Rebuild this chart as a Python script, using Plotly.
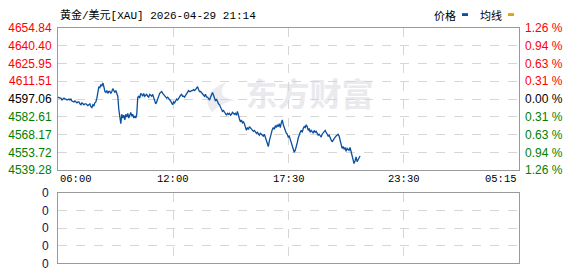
import pandas as pd
import plotly.graph_objects as go

# ---------------- data ----------------
title_text = "黄金/美元[XAU] 2026-04-29 21:14"
prev_close = 4597.06
start_time = "2026-04-29 06:00"
last_time = "2026-04-29 21:14"
session_end = "2026-04-30 05:15"
x_tick_labels = ["06:00", "12:00", "17:30", "23:30", "05:15"]
price_ticks = [4539.28, 4553.72, 4568.17, 4582.61, 4597.06, 4611.51, 4625.95, 4640.40, 4654.84]
pct_labels = ["1.26 %", "0.94 %", "0.63 %", "0.31 %", "0.00 %", "0.31 %", "0.63 %", "0.94 %", "1.26 %"]
vol_ticks = [0, 1, 2, 3, 4]
vol_labels = ["0", "0", "0", "0", "0"]
legend_names = ["价格", "均线"]
watermark = "东方财富"

prices = [
    4598.60, 4597.83, 4597.83, 4597.83, 4596.29, 4597.06, 4597.83, 4597.06, 4597.06, 4596.29,
    4597.06, 4597.06, 4596.29, 4597.06, 4595.52, 4594.75, 4594.75, 4595.52, 4594.75, 4593.98,
    4594.75, 4594.75, 4593.21, 4592.44, 4593.98, 4593.21, 4592.44, 4593.21, 4593.21, 4592.44,
    4591.67, 4592.44, 4593.21, 4590.90, 4590.13, 4592.44, 4591.67, 4593.98, 4594.75, 4597.83,
    4603.99, 4607.08, 4606.31, 4608.62, 4607.85, 4610.16, 4607.08, 4603.22, 4602.45, 4603.99,
    4601.68, 4603.22, 4603.22, 4601.68, 4603.22, 4605.54, 4603.99, 4602.45, 4603.99, 4600.91,
    4599.37, 4588.59, 4582.42, 4577.03, 4584.73, 4581.65, 4583.96, 4580.11, 4584.73, 4582.42,
    4585.51, 4581.65, 4583.96, 4586.28, 4583.19, 4584.73, 4581.65, 4583.19, 4581.65, 4584.73,
    4598.60, 4599.37, 4597.83, 4601.68, 4600.91, 4599.37, 4601.68, 4599.37, 4600.14, 4600.91,
    4599.37, 4598.60, 4600.91, 4600.14, 4599.37, 4600.91, 4598.60, 4597.06, 4593.21, 4594.75,
    4597.83, 4598.60, 4601.68, 4602.45, 4603.22, 4601.68, 4600.91, 4599.37, 4598.60, 4597.83,
    4598.60, 4597.83, 4597.06, 4595.52, 4593.98, 4592.44, 4594.75, 4593.98, 4595.52, 4597.06,
    4596.29, 4597.83, 4598.60, 4600.14, 4600.91, 4599.37, 4599.37, 4598.60, 4600.14, 4601.68,
    4603.22, 4603.99, 4603.22, 4603.22, 4603.99, 4603.99, 4604.77, 4603.99, 4604.77, 4605.54,
    4607.08, 4604.77, 4603.22, 4603.22, 4602.45, 4600.91, 4600.14, 4599.37, 4600.91, 4598.60,
    4598.60, 4597.83, 4596.29, 4598.60, 4600.91, 4602.45, 4600.14, 4597.83, 4595.52, 4597.06,
    4593.98, 4593.21, 4592.44, 4590.13, 4588.59, 4587.05, 4587.82, 4586.28, 4585.51, 4583.96,
    4585.51, 4584.73, 4585.51, 4583.96, 4584.73, 4586.28, 4585.51, 4584.73, 4585.51, 4583.96,
    4587.05, 4583.19, 4580.88, 4578.57, 4580.11, 4577.80, 4578.57, 4577.03, 4573.18, 4571.64,
    4573.95, 4572.41, 4574.72, 4573.95, 4573.18, 4572.41, 4570.87, 4571.64, 4570.10, 4569.33,
    4570.10, 4568.56, 4567.79, 4569.33, 4568.56, 4568.56, 4567.02, 4568.56, 4566.25, 4563.93,
    4560.85, 4558.54, 4563.16, 4567.02, 4570.10, 4572.41, 4573.95, 4572.41, 4575.49, 4573.95,
    4576.26, 4574.72, 4577.03, 4573.95, 4577.80, 4580.11, 4576.26, 4573.95, 4570.87, 4569.33,
    4568.56, 4566.25, 4567.02, 4564.70, 4562.39, 4560.08, 4556.23, 4553.92, 4555.46, 4557.77,
    4561.62, 4565.47, 4568.56, 4570.10, 4571.64, 4570.10, 4573.18, 4574.72, 4573.95, 4576.26,
    4574.72, 4571.64, 4573.18, 4570.10, 4571.64, 4570.87, 4569.33, 4571.64, 4570.10, 4570.87,
    4569.33, 4567.79, 4568.56, 4567.02, 4566.25, 4568.56, 4569.33, 4570.87, 4571.64, 4570.10,
    4568.56, 4567.02, 4567.79, 4564.70, 4563.93, 4562.39, 4563.93, 4564.70, 4566.25, 4567.02,
    4567.79, 4568.56, 4567.02, 4563.93, 4560.08, 4557.00, 4558.54, 4556.23, 4557.77, 4554.69,
    4557.00, 4556.23, 4555.46, 4557.77, 4553.92, 4550.84, 4547.76, 4544.67, 4546.99, 4550.07,
    4546.21, 4547.76, 4549.30, 4550.84,
]

# ---------------- derived ----------------
t0 = pd.Timestamp(start_time)
times = pd.date_range(start_time, last_time, periods=len(prices))
minutes = [(t - t0) / pd.Timedelta(minutes=1) for t in times]
total_min = (pd.Timestamp(session_end) - t0) / pd.Timedelta(minutes=1)
n_int = len(x_tick_labels) - 1
x_tick_vals = [total_min * i / n_int for i in range(n_int + 1)]

RED, GREEN, BLACK = "#ff0000", "#008000", "#000000"


def col(v):
    if abs(v - prev_close) < 1e-6:
        return BLACK
    return RED if v > prev_close else GREEN


left_text = [f"<span style='color:{col(v)}'>{v:.2f}</span>" for v in price_ticks]
right_text = [f"<span style='color:{col(v)}'>{t}</span>" for v, t in zip(price_ticks, pct_labels)]
vol_text = [f"<span style='color:#10105a'>{t}</span>" for t in vol_labels]

W, H = 578, 276
PL, PR = 58, 519
MAIN_T, MAIN_B = 22, 172
VOL_T, VOL_B = 196, 270


def fx(px):
    return px / W


def fy(py):
    return 1 - py / H


GRID = "#d6d6d6"
BORDER = "#9a9a9a"
LINE_BLUE = "#0b4f9f"
AVG_GOLD = "#e0a010"
LABEL_FONT = dict(family="Liberation Sans, Arial", size=12)

fig = go.Figure()
fig.add_trace(go.Scatter(x=minutes, y=prices, mode="lines",
                         line=dict(color=LINE_BLUE, width=1.3),
                         xaxis="x", yaxis="y", showlegend=False, hoverinfo="skip"))
fig.add_trace(go.Scatter(x=[None], y=[None], xaxis="x", yaxis="y3", showlegend=False))
fig.add_trace(go.Scatter(x=[None], y=[None], xaxis="x2", yaxis="y2", showlegend=False))

common_x = dict(range=[0, total_min], tickmode="array", tickvals=x_tick_vals[1:-1], showticklabels=False,
                showgrid=True, gridcolor=GRID, griddash="dash", gridwidth=1,
                showline=True, mirror=True, linecolor=BORDER, linewidth=1,
                zeroline=False, ticks="", domain=[fx(PL), fx(PR)], fixedrange=True)

fig.update_layout(
    width=W, height=H, margin=dict(l=0, r=0, t=0, b=0),
    paper_bgcolor="white", plot_bgcolor="white", showlegend=False,
    xaxis=dict(anchor="y", **common_x),
    xaxis2=dict(anchor="y2", **common_x),
    yaxis=dict(domain=[fy(MAIN_B), fy(MAIN_T)], range=[price_ticks[0], price_ticks[-1]],
               tickmode="array", tickvals=price_ticks, ticktext=left_text, tickfont=LABEL_FONT,
               showgrid=True, gridcolor=GRID, griddash="dash",
               showline=True, mirror=True, linecolor=BORDER, linewidth=1,
               zeroline=False, ticks="", ticklabelstandoff=3, anchor="x"),
    yaxis3=dict(overlaying="y", side="right", anchor="x",
                range=[price_ticks[0], price_ticks[-1]],
                tickmode="array", tickvals=price_ticks, ticktext=right_text, tickfont=LABEL_FONT,
                showgrid=False, zeroline=False, ticks="", ticklabelstandoff=5, showline=False),
    yaxis2=dict(domain=[fy(VOL_B), fy(VOL_T)], range=[vol_ticks[0], vol_ticks[-1]],
                tickmode="array", tickvals=vol_ticks, ticktext=vol_text,
                tickfont=dict(family="Liberation Sans, Arial", size=12, color="#10105a"),
                showgrid=True, gridcolor=GRID, griddash="dash",
                showline=True, mirror=True, linecolor=BORDER, linewidth=1,
                zeroline=False, ticks="", ticklabelstandoff=6, anchor="x2"),
)

# x tick labels (ends aligned to plot edges)
for i, (xv, lab) in enumerate(zip(x_tick_vals, x_tick_labels)):
    anchor = "left" if i == 0 else ("right" if i == n_int else "center")
    fig.add_annotation(x=xv, y=fy(181), xref="x", yref="paper", text=lab, showarrow=False,
                       xanchor=anchor, yanchor="middle",
                       font=dict(family="Liberation Mono, DejaVu Sans Mono", size=10.5, color="#000"))

# title
fig.add_annotation(x=fx(PL), y=fy(8), xref="paper", yref="paper", text=title_text,
                   showarrow=False, xanchor="left", yanchor="middle",
                   font=dict(family="Liberation Mono, Noto Sans CJK SC", size=11, color="#000"))

# legend
legend_cols = [LINE_BLUE, AVG_GOLD]
legend_text_x = [432, 478]
legend_mark_x = [462, 508]
for name, c, tx, mx in zip(legend_names, legend_cols, legend_text_x, legend_mark_x):
    fig.add_annotation(x=fx(tx), y=fy(8), xref="paper", yref="paper", text=name,
                       showarrow=False, xanchor="left", yanchor="middle",
                       font=dict(family="Noto Sans CJK SC", size=11, color="#000"))
    fig.add_shape(type="rect", xref="paper", yref="paper",
                  x0=fx(mx), x1=fx(mx + 6), y0=fy(9.5), y1=fy(6.5),
                  fillcolor=c, line=dict(width=0))

# watermark (below traces)
fig.add_shape(type="rect", xref="paper", yref="paper", layer="below",
              x0=fx(241), x1=fx(378), y0=fy(112), y1=fy(78),
              line=dict(width=0), fillcolor="rgba(0,0,0,0)",
              label=dict(text=watermark, textposition="middle center",
                         font=dict(family="Noto Sans CJK SC", size=32, color="#e9e9ee", weight="bold")))
fig.add_shape(type="path", xref="paper", yref="paper", layer="below",
              path=(f"M {fx(226)} {fy(79)} Q {fx(198)} {fy(92)} {fx(212)} {fy(111)} "
                    f"Q {fx(222)} {fy(100)} {fx(236)} {fy(98)} Q {fx(214)} {fy(96)} {fx(226)} {fy(79)} Z"),
              line=dict(width=0), fillcolor="#ececf0")

fig.write_html("out.html")
